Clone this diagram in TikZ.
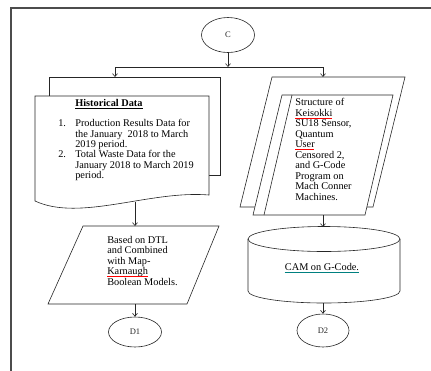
\documentclass[tikz,border=0pt]{standalone}
\usepackage{fontspec}
\setmainfont{Liberation Serif}
\usetikzlibrary{shapes.geometric,arrows.meta,positioning,calc}

\begin{document}
\begin{tikzpicture}[x=1pt,y=-1pt,
    line width=0.6pt, black!85,
    flow/.style={-{Straight Barb[length=3pt,width=5pt]}},
    term/.style={ellipse, draw, fill=white, inner sep=0pt, font=\fontsize{8.5}{9}\selectfont},
    txt/.style={inner sep=0pt, black, align=left, font=\fontsize{10.3}{10.5}\selectfont},
    spellmark/.style={draw=red, line width=1pt},
    grammark/.style={draw=teal, line width=0.8pt}]
    \useasboundingbox (0,0) rectangle (431,370);
    % frame
    \draw[line width=1.6pt, black!70] (11,380) -- (11,8) -- (440,8);

    % start
    \node[term, minimum width=53pt, minimum height=35pt] (c) at (228,35) {C};
    \coordinate (fork) at (228,67);
    \coordinate (forkl) at (115,67);
    \coordinate (forkr) at (323,67);
    \coordinate (histtop) at (115,77);
    \coordinate (structtop) at (323,77);
    \draw[flow] (c.south) -- (fork);
    \draw (forkl) -- (forkr);
    \draw[flow] (forkl) -- (histtop);
    \draw[flow] (forkr) -- (structtop);

    % left: documents
    \draw[fill=white] (49,77) rectangle (220,175);
    \draw[fill=white] (35,201) -- (35,96) -- (209,96) -- (209,195)
        .. controls (150,190) and (80,222) .. (35,201);
    \node[txt, anchor=north west] (hist) at (75,99) {\underline{\textbf{Historical Data}}};
    \node[txt, anchor=north west] (num1) at (58,119) {1.};
    \node[txt, anchor=north west] (item1) at (75,119)
      {Production Results Data for\\ the January \ 2018 to March\\ 2019 period.};
    \node[txt, anchor=north west] (num2) at (58,150) {2.};
    \node[txt, anchor=north west] (item2) at (75,150)
      {Total Waste Data for the\\ January 2018 to March 2019\\ period.};
    \coordinate (histbot) at (135,202);

    % left: method
    \draw[fill=white] (83,226) -- (219,226) -- (187,304) -- (48,304) -- cycle;
    \node[txt, anchor=north west] (dtl) at (107,236)
      {Based on DTL\\ and Combined\\ with Map-\\ Karnaugh\\ Boolean Models.};
    \draw[spellmark] ($(dtl.north west)+(0,40.7)$) -- ++(40.6,0);
    \coordinate (dtltop) at (135,226);
    \coordinate (dtlbot) at (135,304);
    \draw[flow] (histbot) -- (dtltop);

    \node[term, minimum width=53pt, minimum height=30pt] (d1) at (135,332) {D1};
    \draw[flow] (dtlbot) -- (d1.north);

    % right: inputs
    \draw[fill=white] (272,77) -- (405,77) -- (373,207) -- (240,207) -- cycle;
    \draw[fill=white] (282,95) -- (393,95) -- (365,215) -- (253,215) -- cycle;
    \draw (292,95) -- (264,215);
    \node[txt, anchor=north west] (struct) at (295,98)
      {Structure of\\ Keisokki\\ SU18 Sensor,\\ Quantum\\ User\\
       Censored 2,\\ and G-Code\\ Program on\\ Mach Conner\\ Machines.};
    \draw[spellmark] ($(struct.north west)+(0,20.2)$) -- ++(37.2,0);
    \draw[spellmark] ($(struct.north west)+(0,51.7)$) -- ++(19.4,0);
    \coordinate (structbot) at (323,215);

    % right: storage
    \draw[fill=white] (248,239) -- (248,291)
        arc[start angle=180, end angle=360, x radius=76pt, y radius=12pt] -- (400,239);
    \draw (324,239) ellipse [x radius=76pt, y radius=12.5pt];
    \coordinate (camtop) at (323,227);
    \coordinate (cambot) at (323,303);
    \node[txt] (cam) at (322,267) {CAM on G-Code.};
    \draw[grammark] ($(cam.west)+(0,5.5)$) -- ($(cam.east)+(0,5.5)$);
    \draw[flow] (structbot) -- (camtop);

    \node[term, minimum width=52pt, minimum height=33pt] (d2) at (323,330.5) {D2};
    \draw[flow] (cambot) -- (d2.north);
\end{tikzpicture}
\end{document}
